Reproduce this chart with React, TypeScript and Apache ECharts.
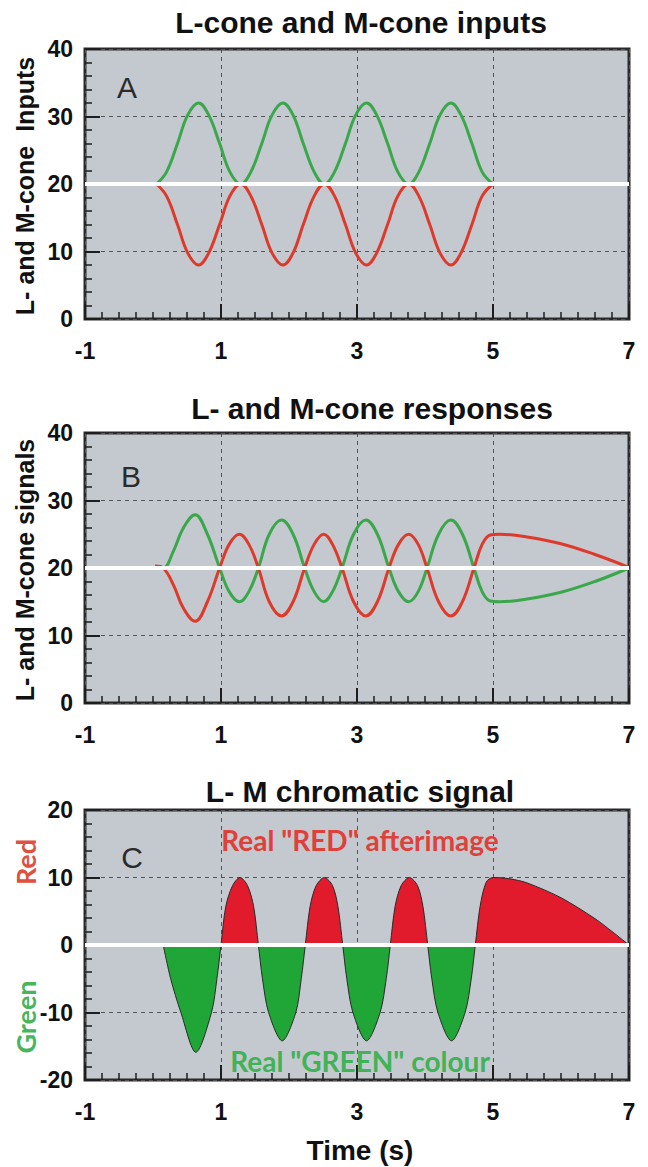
import React, { useEffect, useRef } from "react";
import * as echarts from "echarts";

// ---------- data ----------
const xTickLabels = [-1, 1, 3, 5, 7];

// Panel A: L-cone and M-cone inputs
const inputTimes = [
  0.05, 0.2, 0.36, 0.51, 0.67, 0.82, 0.98, 1.13, 1.29, 1.44, 1.6, 1.75, 1.91, 2.06, 2.21, 2.37,
  2.52, 2.67, 2.83, 2.98, 3.14, 3.29, 3.45, 3.6, 3.76, 3.91, 4.07, 4.22, 4.38, 4.53, 4.69, 4.84, 5.0,
];
const inputGreen = [
  20, 21.8, 26, 30.2, 32, 30.2, 26, 21.8, 20, 21.8, 26, 30.2, 32, 30.2, 26, 21.8,
  20, 21.8, 26, 30.2, 32, 30.2, 26, 21.8, 20, 21.8, 26, 30.2, 32, 30.2, 26, 21.8, 20,
];
const inputRed = [
  20, 18.2, 14, 9.8, 8, 9.8, 14, 18.2, 20, 18.2, 14, 9.8, 8, 9.8, 14, 18.2,
  20, 18.2, 14, 9.8, 8, 9.8, 14, 18.2, 20, 18.2, 14, 9.8, 8, 9.8, 14, 18.2, 20,
];

// Panel B: L- and M-cone responses
const respTimes = [
  0.03, 0.15, 0.3, 0.45, 0.62, 0.8, 0.98, 1.12, 1.27, 1.41, 1.55, 1.71, 1.89, 2.06, 2.23, 2.37,
  2.51, 2.64, 2.78, 2.95, 3.13, 3.3, 3.47, 3.61, 3.76, 3.9, 4.03, 4.2, 4.38, 4.55, 4.72, 4.84,
  4.96, 5.1, 5.5, 6.0, 6.5, 7.0,
];
const respGreen = [
  20, 20, 22.5, 26, 27.9, 25, 20, 16.5, 15, 16.5, 20, 25, 27.1, 25, 20, 16.5,
  15, 16.5, 20, 25, 27.1, 25, 20, 16.5, 15, 16.5, 20, 25, 27.1, 25, 20, 16.5,
  15.1, 15, 15.4, 16.4, 18, 20,
];
const respRed = [
  20.3, 20, 17.5, 14, 12.1, 15, 20, 23.5, 25, 23.5, 20, 15, 12.9, 15, 20, 23.5,
  25, 23.5, 20, 15, 12.9, 15, 20, 23.5, 25, 23.5, 20, 15, 12.9, 15, 20, 23.5,
  24.9, 25, 24.6, 23.6, 22, 20.1,
];

// Panel C: L - M chromatic signal
const chromTimes = [
  0.15, 0.26, 0.41, 0.63, 0.86, 0.94, 1.0,
  1.07, 1.17, 1.28, 1.39, 1.48, 1.55,
  1.61, 1.7, 1.9, 2.1, 2.18, 2.24,
  2.31, 2.4, 2.52, 2.64, 2.72, 2.79,
  2.85, 2.94, 3.14, 3.34, 3.43, 3.49,
  3.56, 3.65, 3.77, 3.89, 3.97, 4.04,
  4.1, 4.19, 4.39, 4.59, 4.68, 4.74,
  4.81, 4.9, 5.0, 5.25, 5.5, 6.0, 6.5, 6.75, 7.0,
];
const chromSignal = [
  0, -5, -10, -15.9, -10, -5, 0,
  5.7, 8.8, 10, 8.8, 5.7, 0,
  -5, -10, -14.2, -10, -5, 0,
  5.7, 8.8, 10, 8.8, 5.7, 0,
  -5, -10, -14.2, -10, -5, 0,
  5.7, 8.8, 10, 8.8, 5.7, 0,
  -5, -10, -14.2, -10, -5, 0,
  5.7, 9.3, 10, 9.8, 9.2, 7.0, 3.9, 2.0, 0,
];

const panelTitles = [
  "L-cone and M-cone inputs",
  "L- and M-cone responses",
  "L- M chromatic signal",
];
const panelLetters = ["A", "B", "C"];
const yNames = ["L- and M-cone  Inputs", "L- and M-cone signals"];

// ---------- styling ----------
const BG = "#c4c8cf";
const GREEN_LINE = "#3aa84a";
const RED_LINE = "#de3a2c";
const FILL_RED = "#e11b2c";
const FILL_GREEN = "#1fa637";
const BOLD = "'Liberation Sans', Arial, sans-serif";
const HUMAN = "Lato, 'Open Sans', sans-serif";

const GRID_LEFT = 85;
const GRID_W = 544;
const GRID_H = 270;
const GRID_TOPS = [49, 433, 810];

const zip = (xs: number[], ys: number[]) => xs.map((x, i) => [x, ys[i]]);

const tickStyle = { color: "#1e1e1e", width: 2 };
const minorStyle = { color: "#1e1e1e", width: 1.5 };
const gridLineStyle = { color: "#555", width: 1, type: [4, 4] };
const labelStyle = { fontSize: 23, fontWeight: "bold", fontFamily: BOLD, color: "#111" };

function makeXAxis(i: number) {
  return {
    type: "value",
    gridIndex: i,
    min: -1,
    max: 7,
    interval: 2,
    axisLine: { show: false, onZero: false },
    axisTick: { show: true, inside: true, length: 15, lineStyle: tickStyle },
    minorTick: { show: true, splitNumber: 8, length: 7, lineStyle: minorStyle },
    splitLine: { show: true, lineStyle: gridLineStyle },
    axisLabel: {
      ...labelStyle,
      margin: 20,
      formatter: (v: number) => (xTickLabels.includes(v) ? String(v) : ""),
    },
  };
}

function makeYAxis(i: number, min: number, max: number) {
  return {
    type: "value",
    gridIndex: i,
    min,
    max,
    interval: 10,
    axisLine: { show: false, onZero: false },
    axisTick: { show: true, inside: true, length: 15, lineStyle: tickStyle },
    minorTick: { show: true, splitNumber: 5, length: 7, lineStyle: minorStyle },
    splitLine: { show: true, lineStyle: gridLineStyle },
    axisLabel: { ...labelStyle, margin: 12 },
  };
}

const whiteLine = (y: number) => ({
  silent: true,
  symbol: ["none", "none"],
  label: { show: false },
  lineStyle: { color: "#ffffff", width: 4, type: "solid" },
  data: [{ yAxis: y }],
});

export default function App() {
  const ref = useRef<HTMLDivElement>(null);

  useEffect(() => {
    document.body.style.margin = "0";
    if (!ref.current) return;
    const chart = echarts.init(ref.current, undefined, { renderer: "svg" });

    const text = (
      x: number,
      y: number,
      t: string,
      font: string,
      size: number,
      weight: string,
      color: string,
      rotation = 0
    ) => ({
      type: "text",
      x,
      y,
      rotation,
      z: 100,
      style: {
        text: t,
        fontFamily: font,
        fontSize: size,
        fontWeight: weight,
        fill: color,
        textAlign: "center",
        textVerticalAlign: "middle",
      },
    });

    const option: any = {
      animation: false,
      backgroundColor: "#ffffff",
      grid: GRID_TOPS.map((top) => ({
        left: GRID_LEFT,
        top,
        width: GRID_W,
        height: GRID_H,
        show: true,
        backgroundColor: BG,
        borderColor: "#2a2a2a",
        borderWidth: 3,
      })),
      xAxis: [makeXAxis(0), makeXAxis(1), makeXAxis(2)],
      yAxis: [makeYAxis(0, 0, 40), makeYAxis(1, 0, 40), makeYAxis(2, -20, 20)],
      visualMap: [
        {
          type: "piecewise",
          show: false,
          seriesIndex: 4,
          dimension: 1,
          pieces: [
            { min: -30, max: 0, color: FILL_GREEN },
            { min: 0, max: 30, color: FILL_RED },
          ],
        },
      ],
      series: [
        {
          type: "line",
          xAxisIndex: 0,
          yAxisIndex: 0,
          data: zip(inputTimes, inputGreen),
          smooth: 0.4,
          symbol: "none",
          lineStyle: { color: GREEN_LINE, width: 3 },
          z: 3,
        },
        {
          type: "line",
          xAxisIndex: 0,
          yAxisIndex: 0,
          data: zip(inputTimes, inputRed),
          smooth: 0.4,
          symbol: "none",
          lineStyle: { color: RED_LINE, width: 3 },
          z: 4,
          markLine: whiteLine(20),
        },
        {
          type: "line",
          xAxisIndex: 1,
          yAxisIndex: 1,
          data: zip(respTimes, respGreen),
          smooth: 0.4,
          symbol: "none",
          lineStyle: { color: GREEN_LINE, width: 3 },
          z: 3,
        },
        {
          type: "line",
          xAxisIndex: 1,
          yAxisIndex: 1,
          data: zip(respTimes, respRed),
          smooth: 0.4,
          symbol: "none",
          lineStyle: { color: RED_LINE, width: 3 },
          z: 4,
          markLine: whiteLine(20),
        },
        {
          type: "line",
          xAxisIndex: 2,
          yAxisIndex: 2,
          data: zip(chromTimes, chromSignal),
          smooth: 0.3,
          symbol: "none",
          lineStyle: { width: 0 },
          areaStyle: { opacity: 1 },
          z: 3,
        },
        {
          type: "line",
          xAxisIndex: 2,
          yAxisIndex: 2,
          data: zip(chromTimes, chromSignal),
          smooth: 0.3,
          symbol: "none",
          lineStyle: { color: "#2a2a2a", width: 1 },
          z: 4,
          markLine: whiteLine(0),
        },
      ],
      graphic: [
        text(361, 22, panelTitles[0], BOLD, 30, "bold", "#111"),
        text(372, 408, panelTitles[1], BOLD, 30, "bold", "#111"),
        text(360, 791, panelTitles[2], BOLD, 30, "bold", "#111"),
        text(127, 87, panelLetters[0], BOLD, 30, "normal", "#2b2b2b"),
        text(131, 476, panelLetters[1], BOLD, 30, "normal", "#2b2b2b"),
        text(132, 857, panelLetters[2], BOLD, 30, "normal", "#2b2b2b"),
        text(25, 186, yNames[0], BOLD, 25, "bold", "#111", Math.PI / 2),
        text(25, 570, yNames[1], BOLD, 25, "bold", "#111", Math.PI / 2),
        text(25, 862, "Red", HUMAN, 27, "bold", "#e0503f", Math.PI / 2),
        text(25, 1017, "Green", HUMAN, 27, "bold", "#48b55c", Math.PI / 2),
        text(360, 840, 'Real "RED" afterimage', HUMAN, 28, "bold", "#e0403a"),
        text(360, 1061, 'Real "GREEN" colour', HUMAN, 28, "bold", "#3fb356"),
        text(360, 1150, "Time (s)", BOLD, 28, "bold", "#111"),
      ],
    };

    chart.setOption(option);
    return () => chart.dispose();
  }, []);

  return <div ref={ref} style={{ width: 648, height: 1167 }} />;
}
